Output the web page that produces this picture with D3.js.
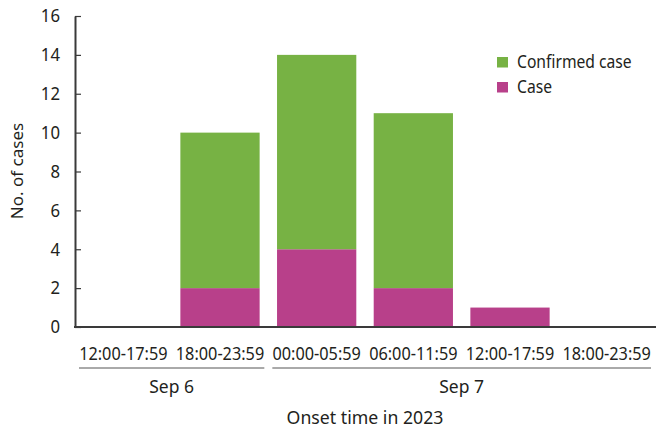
<!DOCTYPE html>
<html><head><meta charset="utf-8">
<script src="https://cdn.jsdelivr.net/npm/d3@7"></script>
<style>body{margin:0;background:#fff}svg{display:block}text{font-family:"Noto Sans",sans-serif;fill:#231f20}</style>
</head><body><svg id="c" width="664" height="433"></svg>
<script>
const categories = ["12:00-17:59","18:00-23:59","00:00-05:59","06:00-11:59","12:00-17:59","18:00-23:59"];
const caseVals = [0,2,4,2,1,0];
const confirmedVals = [0,8,10,9,0,0];
const yTicks = [0,2,4,6,8,10,12,14,16];
const groups = [{label:"Sep 6", from:0, to:1},{label:"Sep 7", from:2, to:5}];
const seriesNames = ["Case","Confirmed case"];
const colors = {"Case":"#b8408a","Confirmed case":"#77b244"};

const svg = d3.select("#c");
const x = d3.scaleBand().domain(d3.range(categories.length)).range([75,655]).paddingInner(0.18).paddingOuter(0.09);
const y = d3.scaleLinear().domain([0,16]).range([327,16]);

const rows = categories.map((c,i)=>({i, "Case":caseVals[i], "Confirmed case":confirmedVals[i]}));
const stack = d3.stack().keys(seriesNames)(rows);
svg.append("g").selectAll("g").data(stack).join("g").attr("fill",d=>colors[d.key])
 .selectAll("rect").data(d=>d).join("rect")
 .attr("x",d=>x(d.data.i)).attr("width",x.bandwidth())
 .attr("y",d=>y(d[1])).attr("height",d=>y(d[0])-y(d[1]));

// y axis
const ySc = 0.93;
const ya = svg.append("g").attr("transform","translate(75,0)")
 .call(d3.axisLeft(y).tickValues(yTicks).tickSizeInner(-6).tickSizeOuter(0).tickPadding(14));
ya.select(".domain").attr("stroke","#3a3a3a").attr("stroke-width",2);
ya.selectAll(".tick line").attr("stroke","#3a3a3a").attr("stroke-width",1.2);
ya.selectAll(".tick text").attr("font-size",18).attr("fill","#231f20").style("font-family","Noto Sans")
  .attr("x",-15/ySc).attr("transform",`scale(${ySc},1)`);

// x axis
const xSc = 0.88;
const xa = svg.append("g").attr("transform","translate(0,327)")
 .call(d3.axisBottom(x).tickFormat(i=>categories[i]).tickSize(0).tickPadding(20));
xa.select(".domain").attr("stroke","#3a3a3a").attr("stroke-width",2).attr("d","M74,0H656");
xa.selectAll(".tick text").attr("font-size",18.5).attr("fill","#231f20").style("font-family","Noto Sans")
  .attr("transform",`scale(${xSc},1)`);

// group lines
groups.forEach(g=>{
  const x0 = x(g.from) - x.step()*x.paddingInner()/2 + 4;
  const x1 = x(g.to) + x.bandwidth() + x.step()*x.paddingInner()/2 - 4;
  svg.append("line").attr("x1",x0).attr("x2",x1).attr("y1",368).attr("y2",368).attr("stroke","#555").attr("stroke-width",1);
  svg.append("text").attr("x",(x0+x1)/2).attr("y",393).attr("text-anchor","middle").attr("font-size",17.5).text(g.label);
});

svg.append("text").attr("x",365).attr("y",424).attr("text-anchor","middle").attr("font-size",17.7).text("Onset time in 2023");
svg.append("text").attr("transform","translate(23,171) rotate(-90)").attr("text-anchor","middle").attr("font-size",17).text("No. of cases");

// legend
const leg = ["Confirmed case","Case"];
const lSc = 0.87;
leg.forEach((k,i)=>{
  svg.append("rect").attr("x",497).attr("y",57+i*25).attr("width",11).attr("height",10.5).attr("fill",colors[k]);
  svg.append("text").attr("transform",`translate(517,${68+i*25}) scale(${lSc},1)`).attr("font-size",18).text(k);
});
</script></body></html>
